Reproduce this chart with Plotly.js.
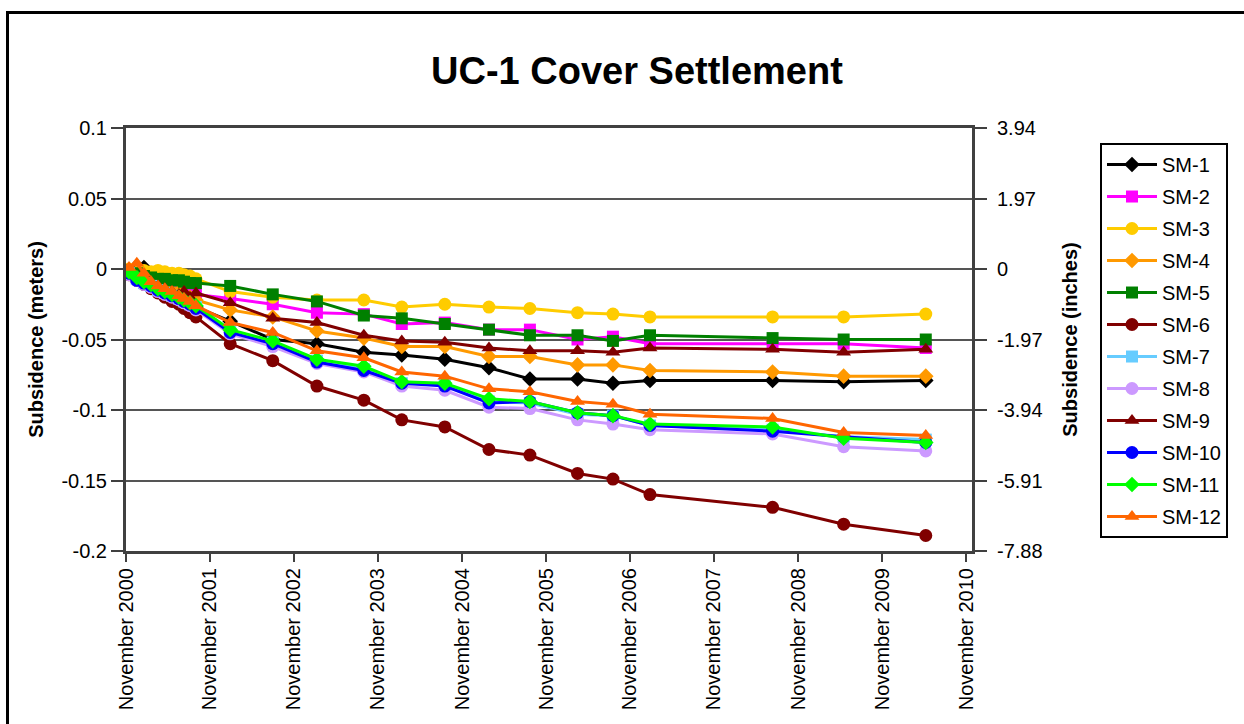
<!DOCTYPE html>
<html>
<head>
<meta charset="utf-8">
<script src="https://cdn.plot.ly/plotly-3.0.1.min.js"></script>
<style>
  html, body { margin: 0; padding: 0; background: #fff; }
  #chart { position: absolute; left: 0; top: 0; width: 1244px; height: 724px; }
  #frame { position: absolute; left: 6px; top: 11px; width: 1300px; height: 800px;
           border: 3px solid #000; pointer-events: none; box-sizing: border-box; }
</style>
</head>
<body>
<div id="chart"></div>
<div id="frame"></div>
<script>
// Survey dates
const dates = [
  '2000-11-14','2000-12-18','2001-01-18','2001-02-18','2001-03-20','2001-04-19',
  '2001-05-20','2001-06-19','2001-07-11','2001-08-06','2001-09-01',
  '2002-01-28','2002-08-01','2003-02-09','2003-09-01','2004-02-13','2004-08-18',
  '2005-02-26','2005-08-23','2006-03-18','2006-08-19','2007-01-27','2008-07-13',
  '2009-05-18','2010-05-10'
];

// Subsidence (meters) per settlement monument
const sm1  = [-0.002,0.002,0.001,-0.008,-0.012,-0.015,-0.018,-0.020,-0.022,-0.025,-0.027,
              -0.037,-0.050,-0.053,-0.059,-0.061,-0.064,-0.070,-0.078,-0.078,-0.081,-0.079,-0.079,-0.080,-0.079];
const sm2  = [-0.003,-0.006,-0.008,-0.010,-0.011,-0.012,-0.013,-0.014,-0.015,-0.017,-0.018,
              -0.021,-0.025,-0.031,-0.032,-0.039,-0.038,-0.043,-0.043,-0.050,-0.048,-0.053,-0.053,-0.053,-0.056];
const sm3  = [0.000,-0.001,-0.001,-0.002,-0.001,-0.002,-0.003,-0.003,-0.004,-0.005,-0.007,
              -0.016,-0.020,-0.022,-0.022,-0.027,-0.025,-0.027,-0.028,-0.031,-0.032,-0.034,-0.034,-0.034,-0.032];
const sm4  = [-0.002,-0.004,-0.008,-0.011,-0.013,-0.014,-0.016,-0.016,-0.018,-0.020,-0.022,
              -0.029,-0.034,-0.044,-0.049,-0.055,-0.055,-0.062,-0.062,-0.068,-0.068,-0.072,-0.073,-0.076,-0.076];
const sm5  = [-0.001,-0.003,-0.005,-0.006,-0.007,-0.007,-0.008,-0.008,-0.009,-0.010,-0.010,
              -0.012,-0.018,-0.023,-0.033,-0.035,-0.039,-0.043,-0.047,-0.047,-0.051,-0.047,-0.049,-0.050,-0.050];
const sm6  = [-0.004,-0.008,-0.011,-0.014,-0.017,-0.020,-0.023,-0.025,-0.028,-0.031,-0.034,
              -0.053,-0.065,-0.083,-0.093,-0.107,-0.112,-0.128,-0.132,-0.145,-0.149,-0.160,-0.169,-0.181,-0.189];
const sm7  = [-0.003,-0.007,-0.010,-0.012,-0.015,-0.017,-0.019,-0.021,-0.023,-0.025,-0.027,
              -0.044,-0.052,-0.065,-0.071,-0.081,-0.082,-0.094,-0.095,-0.103,-0.104,-0.111,-0.114,-0.119,-0.121];
const sm8  = [-0.004,-0.008,-0.011,-0.013,-0.016,-0.018,-0.020,-0.022,-0.024,-0.026,-0.029,
              -0.046,-0.055,-0.067,-0.073,-0.083,-0.086,-0.098,-0.099,-0.107,-0.110,-0.114,-0.117,-0.126,-0.129];
const sm9  = [-0.002,-0.005,-0.008,-0.010,-0.012,-0.014,-0.016,-0.018,-0.016,-0.020,-0.017,
              -0.024,-0.035,-0.038,-0.047,-0.051,-0.052,-0.056,-0.058,-0.058,-0.059,-0.056,-0.057,-0.059,-0.057];
const sm10 = [-0.003,-0.008,-0.010,-0.012,-0.015,-0.017,-0.019,-0.021,-0.023,-0.025,-0.028,
              -0.045,-0.053,-0.066,-0.072,-0.081,-0.083,-0.095,-0.094,-0.102,-0.104,-0.111,-0.115,-0.119,-0.123];
const sm11 = [-0.002,-0.006,-0.009,-0.011,-0.014,-0.016,-0.018,-0.020,-0.022,-0.024,-0.026,
              -0.043,-0.051,-0.064,-0.069,-0.080,-0.081,-0.092,-0.094,-0.102,-0.104,-0.110,-0.112,-0.120,-0.123];
const sm12 = [0.001,0.004,-0.003,-0.009,-0.012,-0.014,-0.016,-0.019,-0.021,-0.023,-0.026,
              -0.038,-0.045,-0.058,-0.063,-0.073,-0.076,-0.085,-0.087,-0.094,-0.096,-0.103,-0.106,-0.116,-0.118];

const seriesNames = ['SM-1','SM-2','SM-3','SM-4','SM-5','SM-6','SM-7','SM-8','SM-9','SM-10','SM-11','SM-12'];

// Tick labels
const yTickVals  = [0.1, 0.05, 0, -0.05, -0.1, -0.15, -0.2];
const yTickText  = ['0.1','0.05','0','-0.05','-0.1','-0.15','-0.2'];
const y2TickText = ['3.94','1.97','0','-1.97','-3.94','-5.91','-7.88'];

const seriesValues = [sm1, sm2, sm3, sm4, sm5, sm6, sm7, sm8, sm9, sm10, sm11, sm12];
const colors  = ['#000000','#FF00FF','#FFCC00','#FF9900','#008000','#800000',
                 '#66CCFF','#CC99FF','#800000','#0000FF','#00FF00','#FF6600'];
const symbols = ['diamond','square','circle','diamond','square','circle',
                 'square','circle','triangle-up','circle','diamond','triangle-up'];
const sizes   = [12,12,13,12,12,13,12,13,13,13,12,13];

const FONT = 'Liberation Sans, Arial, Helvetica, sans-serif';

const traces = seriesNames.map((name, i) => ({
  type: 'scatter', mode: 'lines+markers', name: name,
  x: dates, y: seriesValues[i],
  legendgroup: name,
  line: { color: colors[i], width: 3 },
  marker: { color: colors[i], symbol: symbols[i], size: sizes[i], line: { width: 0 } }
}));

// carrier trace so the secondary (inches) axis is drawn
traces.push({
  type: 'scatter', mode: 'lines', x: dates, y: sm1, yaxis: 'y2',
  opacity: 0, showlegend: false, hoverinfo: 'skip', line: { width: 0 }
});

const axisCol = '#404040';

const layout = {
  width: 1244, height: 724, autosize: false,
  margin: { l: 126, r: 272, t: 128, b: 173, pad: 0 },
  paper_bgcolor: 'rgba(0,0,0,0)', plot_bgcolor: '#ffffff',
  font: { family: FONT, size: 20, color: '#000' },
  title: {
    text: 'UC-1 Cover Settlement',
    font: { family: FONT, size: 38, weight: 'bold', color: '#000' },
    xref: 'container', x: 0.512, xanchor: 'center',
    yref: 'container', y: 0.903, yanchor: 'middle'
  },
  xaxis: {
    type: 'date', range: ['2000-11-01', '2010-11-27'],
    tick0: '2000-11-01', dtick: 'M12', tickformat: '%B %Y', tickangle: -90,
    ticks: 'outside', ticklen: 8, tickwidth: 2, tickcolor: axisCol, ticklabelstandoff: -2,
    showgrid: false, zeroline: false,
    showline: true, linecolor: axisCol, linewidth: 3, mirror: true,
    tickfont: { family: FONT, size: 20, color: '#000' }
  },
  yaxis: {
    range: [-0.2, 0.1], tickmode: 'array', tickvals: yTickVals, ticktext: yTickText,
    ticks: 'outside', ticklen: 12, tickwidth: 2, tickcolor: axisCol,
    showgrid: true, gridcolor: '#555555', gridwidth: 2, zeroline: false,
    showline: true, linecolor: axisCol, linewidth: 3,
    tickfont: { family: FONT, size: 20, color: '#000' },
    title: { text: 'Subsidence (meters)', standoff: 13,
             font: { family: FONT, size: 20, weight: 'bold', color: '#000' } }
  },
  yaxis2: {
    overlaying: 'y', side: 'right', anchor: 'x',
    range: [-0.2, 0.1], tickmode: 'array', tickvals: yTickVals, ticktext: y2TickText,
    ticks: 'outside', ticklen: 12, tickwidth: 2, tickcolor: axisCol, ticklabelstandoff: 6,
    showgrid: false, zeroline: false,
    showline: true, linecolor: axisCol, linewidth: 3,
    tickfont: { family: FONT, size: 20, color: '#000' },
    title: { text: 'Subsidence (inches)', standoff: 22,
             font: { family: FONT, size: 20, weight: 'bold', color: '#000' } }
  },
  legend: {
    x: 1.1513, y: 0.9645, xanchor: 'left', yanchor: 'top',
    bgcolor: '#ffffff', bordercolor: '#000000', borderwidth: 2,
    font: { family: FONT, size: 20, color: '#000' },
    itemwidth: 50, tracegroupgap: 3, traceorder: 'grouped'
  },
  showlegend: true
};

Plotly.newPlot('chart', traces, layout, { displayModeBar: false, staticPlot: true });
</script>
</body>
</html>
